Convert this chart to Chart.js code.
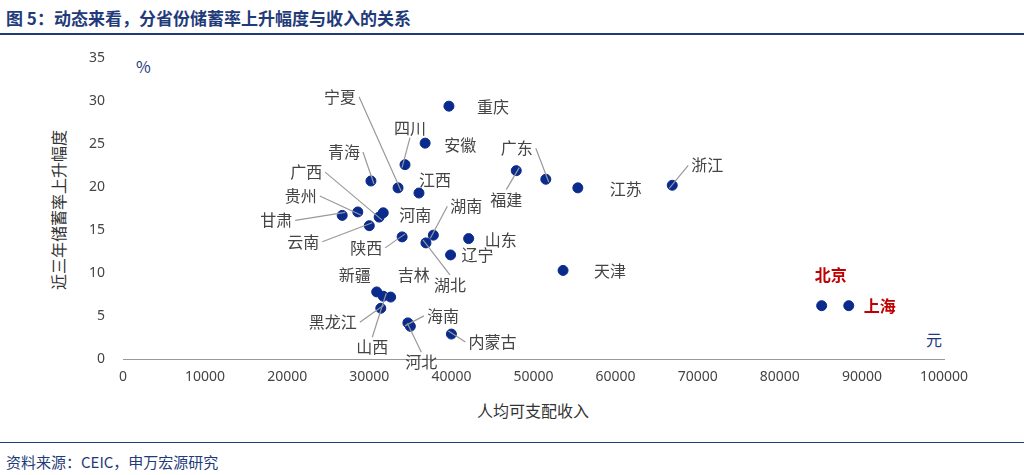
<!DOCTYPE html><html><head><meta charset="utf-8">
<script src="https://cdn.jsdelivr.net/npm/chart.js@4"></script>
<style>body{margin:0;width:1024px;height:475px;background:#fff;font-family:"Noto Sans CJK SC","Noto Sans",sans-serif;position:relative;overflow:hidden}
.t{position:absolute;white-space:nowrap}
#c{position:absolute;left:0;top:0}</style></head><body>
<div class="t" style="left:6px;top:5px;font-size:17px;font-weight:bold;color:#1f3b7a">图 5：动态来看，分省份储蓄率上升幅度与收入的关系</div>
<div style="position:absolute;left:0;top:33px;width:1024px;height:2px;background:#1f3b7a"></div>
<div style="position:absolute;left:0;top:442px;width:1024px;height:1px;background:#1f3b7a"></div>
<div class="t" style="left:6px;top:451px;font-size:15px;color:#1f3b7a">资料来源：CEIC，申万宏源研究</div>
<div class="t" style="left:58px;top:210px;font-size:16px;color:#333;transform:translate(-50%,-50%) rotate(-90deg)">近三年储蓄率上升幅度</div>
<div class="t" style="left:136px;top:54px;font-size:16px;color:#1f3b7a">%</div>
<div class="t" style="left:926px;top:327px;font-size:16px;color:#1f3b7a">元</div>
<div class="t" style="left:533px;top:410px;font-size:16px;color:#333;transform:translate(-50%,-50%)">人均可支配收入</div>
<canvas id="c" width="1024" height="475"></canvas>
<script>
const provinces=["重庆","安徽","四川","青海","宁夏","江西","广东","福建","江苏","浙江","贵州","甘肃","广西","河南","云南","陕西","湖南","湖北","山东","辽宁","天津","新疆","吉林","黑龙江","山西","海南","河北","内蒙古","北京","上海"];
const income=[39700,36800,34350,30200,33500,36050,51500,47900,55400,66900,28600,26700,31200,31700,30000,34000,37800,36900,42100,39900,53600,30900,32600,31400,31700,34700,35000,40000,85100,88400];
const savingRise=[29.4,25.1,22.6,20.7,19.9,19.3,20.9,21.9,19.9,20.2,17.1,16.7,16.5,17.0,15.5,14.2,14.4,13.5,14.0,12.1,10.3,7.8,7.2,5.9,7.3,4.2,3.8,2.9,6.2,6.2];
const xTicks=[0,10000,20000,30000,40000,50000,60000,70000,80000,90000,100000];
// label placement: [dx,dy,leader(0/1)] relative to point pixel
const labelPos=[[44,1,0],[35,2,0],[5,-37,1],[-27,-29,1],[-58,-91,1],[16,-13,0],[-29,-31,1],[-10,29,1],[48,1,0],[35,-20,1],[-57,-16,1],[-66,5,1],[-73,-45,1],[32,2,0],[-66,16,1],[-36,11,1],[33,-29,1],[24,42,1],[32,1,0],[27,0,0],[47,1,0],[-22,-17,0],[23,-22,0],[-48,14,1],[-11,51,1],[35,-7,1],[11,36,1],[41,8,1],[9,-31,0],[31,0,0]];
const pts=income.map((x,i)=>({x,y:savingRise[i]}));
const labels={id:'lbl',afterDatasetsDraw(ch){const c=ch.ctx,xs=ch.scales.x,ys=ch.scales.y;c.save();
provinces.forEach((n,i)=>{const px=xs.getPixelForValue(income[i]),py=ys.getPixelForValue(savingRise[i]);const [dx,dy,l]=labelPos[i];
const red=n==="北京"||n==="上海";c.font=(red?"bold ":"")+"16px 'Noto Sans CJK SC'";c.fillStyle=red?"#c00000":"#444";c.textAlign="center";c.textBaseline="middle";
const tx=px+dx,ty=py+dy;c.fillText(n,tx,ty);
if(l){const w=c.measureText(n).width/2+3;let ax=tx,ay=ty;if(Math.abs(dx)>Math.abs(dy)*0.6){ax=tx+(dx<0?w:-w);}else{ay=ty+(dy<0?10:-10);}
c.strokeStyle="#999";c.lineWidth=1.2;c.beginPath();c.moveTo(ax,ay);c.lineTo(px-Math.sign(dx)*3,py-Math.sign(dy)*3);c.stroke();}});c.restore();}};
new Chart(document.getElementById('c'),{type:'scatter',data:{datasets:[{data:pts,backgroundColor:'#0a2a8c',borderColor:'#0a2a8c',pointRadius:5,pointHoverRadius:5}]},
options:{responsive:false,animation:false,layout:{padding:{top:58,right:80,left:0,bottom:0}},plugins:{legend:{display:false},tooltip:{enabled:false}},
scales:{x:{min:0,max:100000,afterBuildTicks(s){s.ticks=xTicks.map(v=>({value:v}));},afterFit(s){s.height=116;},grid:{display:false,drawTicks:true,tickLength:6,color:'#999'},border:{color:'#999'},ticks:{color:'#444',font:{size:14,family:'Noto Sans'},padding:4,maxRotation:0,callback:v=>String(v)}},
y:{min:0,max:35,ticks:{stepSize:5,color:'#444',font:{size:14,family:'Noto Sans'},padding:10},afterFit(s){s.width=123;},grid:{display:false},border:{display:false}}}},plugins:[labels]});
</script></body></html>
